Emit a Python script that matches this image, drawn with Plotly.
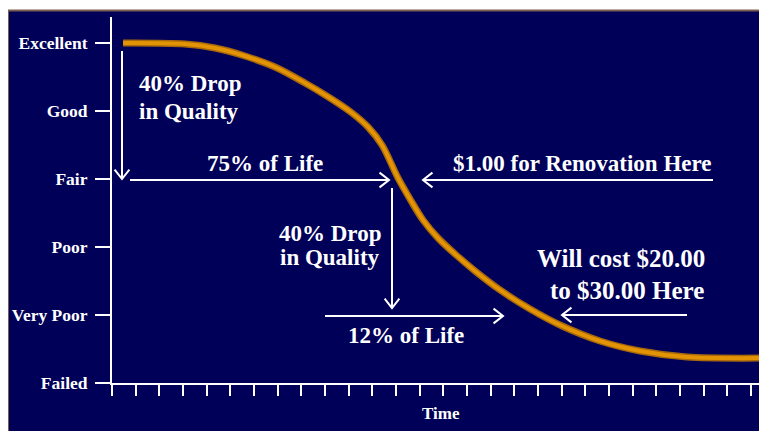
import math
import plotly.graph_objects as go

W, H = 767, 431
OFF = 8  # page body margin offset (screen = figure + 8)

# ---- data ----
quality_levels = [0, 1, 2, 3, 4, 5]
quality_labels = ["Failed", "Very Poor", "Poor", "Fair", "Good", "Excellent"]
time_ticks = list(range(28))

curve_time = [0.465, 3.084, 4.352, 5.620, 6.887, 8.155, 9.211, 10.141, 10.817, 11.408,
              12.084, 12.591, 13.141, 13.775, 14.493, 15.338, 16.394, 17.662, 18.929,
              20.619, 22.309, 24.295, 28.1]
curve_quality = [5.000, 4.985, 4.926, 4.809, 4.647, 4.412, 4.191, 3.971, 3.765, 3.500,
                 3.015, 2.706, 2.397, 2.132, 1.897, 1.647, 1.368, 1.088, 0.853,
                 0.618, 0.471, 0.382, 0.368]

NAVY = "#000058"
FONT = "Liberation Serif"

# plot-area geometry (screen pixels)
PL, PR, PT, PB = 112, W + OFF, 17, 383


def fx(x):
    return (x - OFF) / W


def fy(y):
    return 1 - (y - OFF) / H


fig = go.Figure()
fig.add_trace(go.Scatter(x=curve_time, y=curve_quality, mode="lines",
                         line=dict(color="#A8680C", width=7, shape="spline", smoothing=0.9),
                         hoverinfo="skip", showlegend=False))
fig.add_trace(go.Scatter(x=curve_time, y=curve_quality, mode="lines",
                         line=dict(color="#E39405", width=4, shape="spline", smoothing=0.9),
                         hoverinfo="skip", showlegend=False))

shapes = [
    dict(type="rect", xref="paper", yref="paper", x0=fx(8), x1=fx(800), y0=fy(11), y1=fy(460),
         fillcolor=NAVY, line=dict(width=0), layer="below"),
    dict(type="line", xref="paper", yref="paper", x0=fx(8), x1=fx(800), y0=fy(10.5), y1=fy(10.5),
         line=dict(color="#7a5e4e", width=2), layer="below"),
    dict(type="line", xref="paper", yref="paper", x0=fx(8.5), x1=fx(8.5), y0=fy(10), y1=fy(460),
         line=dict(color="#7a5e4e", width=1), layer="below"),
]


def arrow(x0, y0, x1, y1, arm=12, ang=38):
    shapes.append(dict(type="line", xref="paper", yref="paper",
                       x0=fx(x0), y0=fy(y0), x1=fx(x1), y1=fy(y1),
                       line=dict(color="white", width=2)))
    th = math.atan2(y0 - y1, x0 - x1)
    a = math.radians(ang)
    p1 = (x1 + arm * math.cos(th + a), y1 + arm * math.sin(th + a))
    p2 = (x1 + arm * math.cos(th - a), y1 + arm * math.sin(th - a))
    path = "M {:.5f},{:.5f} L {:.5f},{:.5f} L {:.5f},{:.5f}".format(
        fx(p1[0]), fy(p1[1]), fx(x1), fy(y1), fx(p2[0]), fy(p2[1]))
    shapes.append(dict(type="path", xref="paper", yref="paper", path=path,
                       line=dict(color="white", width=2)))


arrow(122, 51, 122, 179)
arrow(130, 180, 389, 180)
arrow(713, 180, 423, 180)
arrow(392, 188, 392, 308)
arrow(325, 316, 503, 316)
arrow(687, 315, 562, 315)

texts = [
    ("40% Drop", 137, 84, "left", 23),
    ("in Quality", 137, 111, "left", 23),
    ("75% of Life", 265, 163, "center", 23),
    ("$1.00 for Renovation Here", 582, 163, "center", 23),
    ("40% Drop", 330, 233, "center", 23),
    ("in Quality", 330, 257, "center", 23),
    ("12% of Life", 406, 335, "center", 23),
    ("Will cost $20.00", 621, 259, "center", 25),
    ("to $30.00 Here", 627, 290, "center", 25),
]
annotations = []
for t, x, y, anc, sz in texts:
    annotations.append(dict(text=t, xref="paper", yref="paper", x=fx(x), y=fy(y),
                            xanchor=anc, yanchor="middle", showarrow=False,
                            font=dict(family=FONT, size=sz, color="white", weight="bold")))
annotations.append(dict(text="Time", xref="paper", yref="paper", x=fx(441), y=fy(413),
                        xanchor="center", yanchor="middle", showarrow=False,
                        font=dict(family=FONT, size=17, color="white", weight="bold")))

fig.update_layout(
    width=W, height=H,
    margin=dict(l=0, r=0, t=0, b=0),
    paper_bgcolor="white",
    plot_bgcolor=NAVY,
    shapes=shapes,
    annotations=annotations,
    showlegend=False,
    xaxis=dict(domain=[fx(PL), 1], range=[0, (PR - PL) / 23.667],
               showline=True, linecolor="white", linewidth=2,
               ticks="outside", ticklen=11, tickwidth=2, tickcolor="white",
               tickvals=time_ticks, showticklabels=False,
               showgrid=False, zeroline=False, automargin=False, fixedrange=True),
    yaxis=dict(domain=[fy(PB), fy(PT)], range=[0, (PB - PT) / 68.0],
               showline=True, linecolor="white", linewidth=2,
               ticks="outside", ticklen=15, tickwidth=2, tickcolor="white",
               tickvals=quality_levels, ticktext=quality_labels, ticklabelstandoff=4,
               tickfont=dict(family=FONT, size=17.5, color="white", weight="bold"),
               showgrid=False, zeroline=False, automargin=False, fixedrange=True),
)

fig.write_html("out.html")
